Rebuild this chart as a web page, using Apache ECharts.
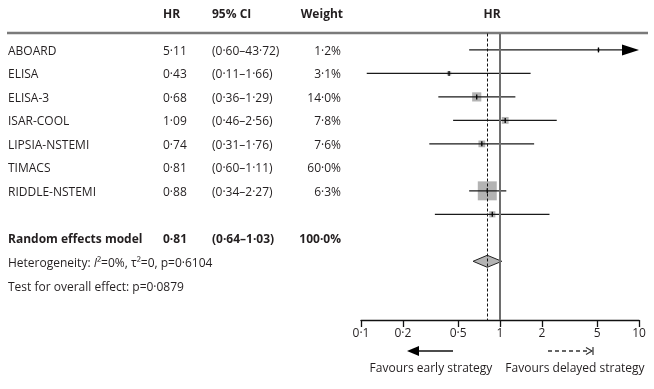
<!DOCTYPE html>
<html><head><meta charset="utf-8">
<script src="https://cdn.jsdelivr.net/npm/echarts@6/dist/echarts.min.js"></script>
<style>html,body{margin:0;padding:0;background:#fff}#c{width:654px;height:389px}</style>
</head><body><div id="c"></div>
<script>
// ---- data ----
const studies = ['ABOARD','ELISA','ELISA-3','ISAR-COOL','LIPSIA-NSTEMI','TIMACS','RIDDLE-NSTEMI'];
const hr = [5.11, 0.43, 0.68, 1.09, 0.74, 0.81, 0.88];
const ciLow = [0.60, 0.11, 0.36, 0.46, 0.31, 0.60, 0.34];
const ciHigh = [43.72, 1.66, 1.29, 2.56, 1.76, 1.11, 2.27];
const weight = [1.2, 3.1, 14.0, 7.8, 7.6, 60.0, 6.3];
const hrText = ['5·11','0·43','0·68','1·09','0·74','0·81','0·88'];
const ciText = ['(0·60–43·72)','(0·11–1·66)','(0·36–1·29)','(0·46–2·56)','(0·31–1·76)','(0·60–1·11)','(0·34–2·27)'];
const weightText = ['1·2%','3·1%','14·0%','7·8%','7·6%','60·0%','6·3%'];
const plotRow = [0, 1, 2, 3, 4, 6, 7];          // rows at which the marks appear in the figure
const pooledHR = 0.81, pooledLow = 0.64, pooledHigh = 1.03, pooledRow = 9;
const pooledLabels = ['Random effects model','0·81','(0·64–1·03)','100·0%'];
const tickValues = [0.1, 0.2, 0.5, 1, 2, 5, 10];
const tickLabels = ['0·1','0·2','0·5','1','2','5','10'];
const axisMax = 10;

// ---- chart ----
const FF = 'Open Sans';
const TC = '#231f20';
const L = Math.log10;
const chart = echarts.init(document.getElementById('c'));

const studyData = studies.map((s, i) => [L(ciLow[i]), L(Math.min(ciHigh[i], axisMax)), L(hr[i]), plotRow[i], weight[i], ciHigh[i] > axisMax ? 1 : 0]);

function renderStudy(params, api) {
  const row = api.value(3);
  const lo = api.coord([api.value(0), row]);
  const hi = api.coord([api.value(1), row]);
  const pt = api.coord([api.value(2), row]);
  const s = Math.sqrt(api.value(4)) * 2.45;
  const arrow = api.value(5);
  const children = [
    {type: 'rect', shape: {x: pt[0] - s / 2, y: pt[1] - s / 2, width: s, height: s}, style: {fill: '#b3b3b3'}},
    {type: 'line', shape: {x1: lo[0], y1: lo[1], x2: hi[0] - (arrow ? 12 : 0), y2: hi[1]}, style: {stroke: '#1a1a1a', lineWidth: 1.3}},
    {type: 'line', shape: {x1: pt[0], y1: pt[1] - 2.5, x2: pt[0], y2: pt[1] + 2.5}, style: {stroke: '#000', lineWidth: 1.3}}
  ];
  if (arrow) children.push({type: 'polygon', shape: {points: [[hi[0] - 17, hi[1] - 5.5], [hi[0], hi[1]], [hi[0] - 17, hi[1] + 5.5]]}, style: {fill: '#000'}});
  return {type: 'group', children};
}

function renderDiamond(params, api) {
  const row = api.value(3);
  const lo = api.coord([api.value(0), row]);
  const hi = api.coord([api.value(1), row]);
  const pt = api.coord([api.value(2), row]);
  return {type: 'polygon', shape: {points: [[lo[0], lo[1]], [pt[0], pt[1] - 6], [hi[0], hi[1]], [pt[0], pt[1] + 6]]},
    style: {fill: '#b3b3b3', stroke: '#222', lineWidth: 1}};
}

const graphics = [];
function txt(text, x, y, opts) {
  graphics.push({type: 'text', x: x, y: y, silent: true, style: Object.assign({
    text: text, fill: TC, fontFamily: FF, fontSize: 12, textAlign: 'left', textVerticalAlign: 'middle'}, opts || {})});
}
// header
txt('HR', 163, 15, {fontWeight: 'bold'});
txt('95% CI', 212, 15, {fontWeight: 'bold'});
txt('Weight', 343, 15, {fontWeight: 'bold', textAlign: 'right'});
txt('HR', 492, 15, {fontWeight: 'bold', textAlign: 'center'});
graphics.push({type: 'line', shape: {x1: 7, y1: 33, x2: 648, y2: 33}, style: {stroke: '#7a7a7a', lineWidth: 2.5}});
// rows
studies.forEach((s, i) => {
  const y = 51.5 + 23.5 * i;
  txt(s, 8, y);
  txt(hrText[i], 163, y);
  txt(ciText[i], 212, y);
  txt(weightText[i], 341, y, {textAlign: 'right'});
});
txt(pooledLabels[0], 8, 240, {fontWeight: 'bold'});
txt(pooledLabels[1], 163, 240, {fontWeight: 'bold'});
txt(pooledLabels[2], 212, 240, {fontWeight: 'bold'});
txt(pooledLabels[3], 341, 240, {fontWeight: 'bold', textAlign: 'right'});
graphics.push({type: 'text', x: 8, y: 264, silent: true, style: {
  text: 'Heterogeneity: {i|I}²=0%, τ²=0, p=0·6104', fill: TC, fontFamily: FF, fontSize: 12, textVerticalAlign: 'middle',
  rich: {i: {fontStyle: 'italic', fontFamily: FF, fontSize: 12, fill: TC}}}});
txt('Test for overall effect: p=0·0879', 8, 288);
// favours annotations
graphics.push({type: 'line', shape: {x1: 416, y1: 351, x2: 453, y2: 351}, style: {stroke: '#111', lineWidth: 1.5}});
graphics.push({type: 'polygon', shape: {points: [[407, 351], [419, 346], [419, 356]]}, style: {fill: '#000'}});
graphics.push({type: 'line', shape: {x1: 548, y1: 351, x2: 590, y2: 351}, style: {stroke: '#333', lineWidth: 1.3, lineDash: [4, 3]}});
graphics.push({type: 'polyline', shape: {points: [[586, 347.5], [592, 351], [586, 354.5]]}, style: {stroke: '#333', lineWidth: 1.2, fill: 'none'}});
graphics.push({type: 'line', shape: {x1: 593, y1: 347, x2: 593, y2: 355}, style: {stroke: '#333', lineWidth: 1.2}});
txt('Favours early strategy', 431, 369, {textAlign: 'center'});
txt('Favours delayed strategy', 575, 369, {textAlign: 'center'});

chart.setOption({
  animation: false,
  grid: {left: 361, width: 278, top: 33.5, height: 286.5},
  xAxis: {
    type: 'value', min: -1, max: 1, position: 'bottom',
    axisLine: {onZero: false, lineStyle: {color: '#111', width: 1.3}},
    axisTick: {customValues: tickValues.map(L), length: 7, lineStyle: {color: '#111', width: 1.3}},
    axisLabel: {customValues: tickValues.map(L), color: TC, fontFamily: FF, fontSize: 12, margin: 8,
      formatter: v => { const k = tickValues.findIndex(t => Math.abs(L(t) - v) < 1e-6); return k >= 0 ? tickLabels[k] : ''; }},
    splitLine: {show: false}
  },
  yAxis: {type: 'value', inverse: true, min: -0.7, max: 11.5, show: false, axisLine: {onZero: false}},
  graphic: graphics,
  series: [
    {type: 'custom', renderItem: renderStudy, data: studyData, z: 3,
      markLine: {silent: true, symbol: 'none', label: {show: false},
        data: [
          {xAxis: 0, lineStyle: {color: '#6e6e6e', width: 2, type: 'solid'}},
          {xAxis: L(pooledHR), lineStyle: {color: '#111', width: 1, type: [3, 2]}}
        ]}},
    {type: 'custom', renderItem: renderDiamond, z: 3,
      data: [[L(pooledLow), L(pooledHigh), L(pooledHR), pooledRow]]}
  ]
});
</script></body></html>
